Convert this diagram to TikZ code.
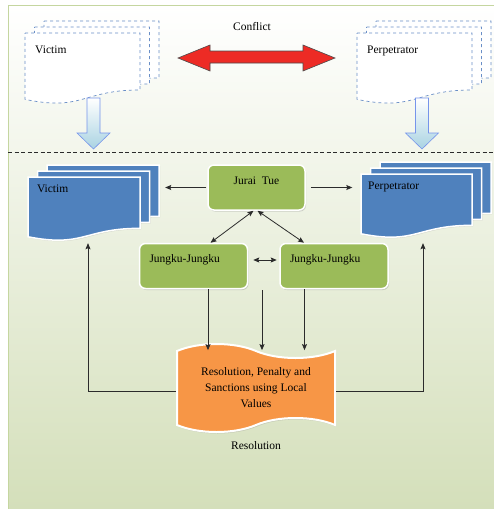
\documentclass[tikz,border=0pt]{standalone}
\usepackage{fontspec}
\setmainfont{Liberation Serif}
\usetikzlibrary{arrows,arrows.meta,positioning,shapes.symbols,shadows}
\definecolor{docblue}{HTML}{4F81BD}
\definecolor{boxgreen}{HTML}{9BBB59}
\definecolor{tapeorange}{HTML}{F79646}
\definecolor{conflictred}{HTML}{ED2B25}
\definecolor{bggreen}{HTML}{D4DFBA}
\definecolor{framegreen}{HTML}{C5D6A0}
\definecolor{dashblue}{HTML}{6A8FC7}
\definecolor{pastblue}{HTML}{A9D3E2}
\definecolor{linegray}{HTML}{2B2B2B}
\tikzset{
    >={Stealth[length=6pt, width=5pt, inset=1pt]},
    font=\fontsize{11.5}{16}\selectfont,
    plain text/.style={inner sep=0pt},
    old doc/.style={draw=dashblue, dashed, fill=white, line width=0.7pt},
    new doc/.style={draw=white, fill=docblue, line width=1.5pt,
        drop shadow={opacity=0.25, shadow xshift=1pt, shadow yshift=-1pt}},
    doc anchor/.style={inner sep=0pt, minimum width=112pt, minimum height=66pt},
    elder box/.style={rectangle, rounded corners=6pt, draw=white, fill=boxgreen,
        line width=1.5pt, minimum height=45pt, text height=13pt, text depth=20pt,
        inner ysep=6pt, drop shadow={opacity=0.3, shadow xshift=1pt, shadow yshift=-1.5pt}},
    side box/.style={elder box, text width=88pt, inner xsep=10pt, align=left},
    verdict tape/.style={tape, draw=white, fill=tapeorange, line width=2pt, align=center,
        minimum width=158pt, minimum height=88pt, tape bend height=14pt,
        tape bend top=out and in,
        drop shadow={opacity=0.25, shadow xshift=1pt, shadow yshift=-1.5pt}},
    link/.style={->, draw=linegray, line width=0.8pt},
    down arrow/.style={draw=pastblue!70!blue, top color=white, bottom color=pastblue, line width=0.6pt}
}
% one sheet of a document shape: x, y (top left), width, height, style
\newcommand{\docsheet}[5]{%
    \path[#5] (#1,#2) -- ({#1+#3},#2) -- ({#1+#3},{#2+0.802*#4})
        .. controls ({#1+0.5*#3},{#2+0.802*#4}) and ({#1+0.5*#3},{#2+1.107*#4}) .. (#1,{#2+0.934*#4}) -- cycle;}
% three stacked sheets
\newcommand{\docstack}[5]{%
    \docsheet{#1+19}{#2-12}{#3}{#4}{#5}
    \docsheet{#1+9.5}{#2-6}{#3}{#4}{#5}
    \docsheet{#1}{#2}{#3}{#4}{#5}}
\begin{document}
\begin{tikzpicture}[x=1pt, y=-1pt]
    \useasboundingbox (0,0) rectangle (494,509);
    % background
    \path[top color=white, bottom color=bggreen] (8,5) rectangle (494,509);
    \draw[framegreen, line width=1pt] (8,509) -- (8,5) -- (494,5);
    \draw[linegray, line width=0.6pt, dash pattern=on 4pt off 2.5pt] (8,152) -- (494,152);

    % conflict part
    \docstack{25}{33}{115}{71}{old doc}
    \docstack{357}{33}{115}{71}{old doc}
    \node[plain text, anchor=base west] (old victim) at (35,53) {Victim};
    \node[plain text, anchor=base west] (old perpetrator) at (367,53) {Perpetrator};
    \node (conflict) at (252,27) {Conflict};
    \path[fill=conflictred, draw=black!70, line width=0.6pt]
        (178,58) -- (210,45) -- (210,51) -- (303,51) -- (303,45) -- (335,58)
        -- (303,71) -- (303,63) -- (210,63) -- (210,71) -- cycle;
    \path[down arrow] (87,98) -- (100,98) -- (100,133) -- (110,133) -- (93.5,149) -- (77,133) -- (87,133) -- cycle;
    \path[down arrow] (415.5,98) -- (428.5,98) -- (428.5,133) -- (438.5,133) -- (422,149) -- (405.5,133) -- (415.5,133) -- cycle;

    % resolution part
    \docstack{28}{177}{112}{64}{new doc}
    \docstack{361}{174}{111}{64}{new doc}
    \node[doc anchor] (victim) at (84,210) {};
    \node[doc anchor] (perpetrator) at (416.5,210) {};
    \node[plain text, anchor=base west] (victim label) at ([xshift=9pt, yshift=-16pt]victim.north west) {Victim};
    \node[plain text, anchor=base west] (perpetrator label) at (368,189) {Perpetrator};

    \node[elder box, minimum width=97pt] (jurai) at (256.5,187.5) {Jurai\ \ Tue};
    \node[side box] (jungkuL) [below=32pt of jurai, xshift=-63pt] {Jungku-Jungku};
    \node[side box] (jungkuR) [right=31pt of jungkuL] {Jungku-Jungku};
    \node[verdict tape] (resol) at (256,388) {Resolution, Penalty and\\Sanctions using Local\\Values};
    \node[plain text] (resol caption) [below=15pt of resol] {Resolution};
    \coordinate (fork) at (262,290);

    \draw[link] ([xshift=-1pt]jurai.west) -- ([xshift=25pt]victim.east |- jurai.west);
    \draw[link] ([xshift=5pt]jurai.east) -- ([xshift=-8pt]perpetrator.west |- jurai.east);
    \draw[link, <->] ([xshift=-3pt]jurai.south) -- ([xshift=17pt]jungkuL.north);
    \draw[link, <->] ([xshift=1pt]jurai.south) -- ([xshift=-30pt]jungkuR.north);
    \draw[link, <->, shorten <=5pt, shorten >=2.5pt] ([yshift=6pt]jungkuL.east) -- ([yshift=6pt]jungkuR.west);
    \draw[link] ([xshift=14.5pt]jungkuL.south) -- ([xshift=14.5pt]jungkuL.south |- resol.north);
    \draw[link] (fork) -- (fork |- resol.north);
    \draw[link] ([xshift=-29.5pt]jungkuR.south) -- ([xshift=-29.5pt]jungkuR.south |- resol.north);
    \draw[link] ([yshift=-3pt]resol.west) -| ([xshift=4pt]victim.south);
    \draw[link] ([yshift=-3pt]resol.east) -| ([xshift=6.5pt]perpetrator.south);
\end{tikzpicture}
\end{document}
